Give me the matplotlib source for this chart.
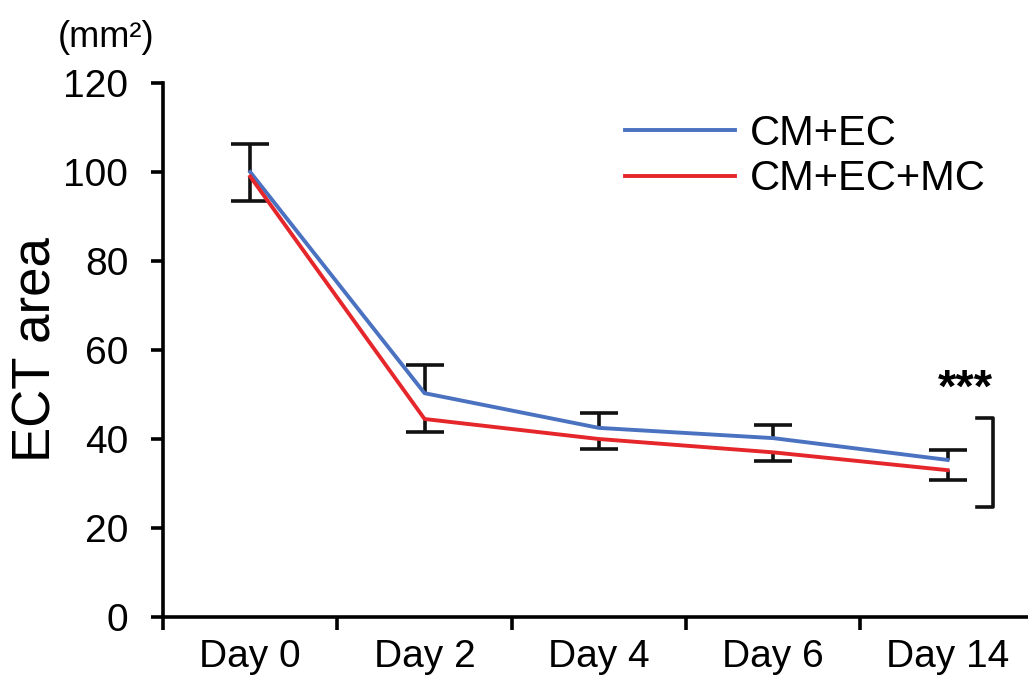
import matplotlib.pyplot as plt
import numpy as np

plt.rcParams["font.family"] = ["Liberation Sans", "DejaVu Sans"]

days = ["Day 0", "Day 2", "Day 4", "Day 6", "Day 14"]
cm_ec = [100.0, 50.3, 42.5, 40.2, 35.3]
cm_ec_mc = [99.0, 44.5, 40.0, 37.0, 33.0]
cm_ec_err = [6.3, 6.3, 3.3, 2.9, 2.2]
cm_ec_mc_err = [5.5, 2.9, 2.2, 2.0, 2.2]


def main():
    fig = plt.figure(figsize=(10.28, 6.81), dpi=100)
    ax = fig.add_axes([0.1586, 0.094, 0.848, 0.784])
    x = np.arange(len(days))

    blue = "#4a72c0"
    red = "#e5262b"
    ax.plot(x, cm_ec, color=blue, linewidth=2.8, label="CM+EC", zorder=3)
    ax.plot(x, cm_ec_mc, color=red, linewidth=2.8, label="CM+EC+MC", zorder=3)

    # one-sided bars: up for CM+EC, down for CM+EC+MC
    top = np.array(cm_ec) + np.array(cm_ec_err)
    bottom = np.array(cm_ec_mc) - np.array(cm_ec_mc_err)
    ink = "#111111"
    ax.vlines(x, cm_ec, top, color=ink, linewidth=2.6, zorder=2)
    ax.vlines(x, bottom, cm_ec_mc, color=ink, linewidth=2.6, zorder=2)
    ax.plot(x, top, ls="none", marker="_", ms=27, mew=2.6, color=ink, zorder=2)
    ax.plot(x, bottom, ls="none", marker="_", ms=27, mew=2.6, color=ink, zorder=2)

    ax.set_xlim(-0.5, 4.5)
    ax.set_ylim(0, 120)
    ax.set_yticks([0, 20, 40, 60, 80, 100, 120])
    ax.set_xticks(np.arange(-0.5, 5, 1.0))
    ax.set_xticklabels([])
    ax.set_xticks(x, minor=True)
    ax.set_xticklabels(days, minor=True)
    ax.tick_params(axis="x", which="minor", length=0, pad=16, labelsize=28)
    ax.tick_params(axis="x", which="major", length=9, width=2.6, direction="out")
    ax.tick_params(axis="y", length=9, width=2.6, direction="out", labelsize=28, pad=16)

    for side in ["top", "right"]:
        ax.spines[side].set_visible(False)
    for side in ["left", "bottom"]:
        ax.spines[side].set_linewidth(2.6)

    ax.set_ylabel("ECT area", fontsize=38, labelpad=1)
    fig.text(0.103, 0.945, "(mm²)", fontsize=26, ha="center", va="center")

    # significance bracket at Day 14
    bx = 4.26
    ax.plot([bx - 0.09, bx, bx, bx - 0.09], [44.7, 44.7, 24.7, 24.7],
            color=ink, linewidth=2.6, clip_on=False)
    ax.text(4.1, 51.0, "***", fontsize=34, fontweight="bold", ha="center", va="center")

    ax.legend(loc="center left", bbox_to_anchor=(0.608, 0.770),
              bbox_transform=fig.transFigure, frameon=False, borderpad=0,
              borderaxespad=0, fontsize=30, handlelength=2.64,
              handletextpad=0.36, labelspacing=0.13)

    fig.savefig("out.png", dpi=100)


if __name__ == "__main__":
    main()
